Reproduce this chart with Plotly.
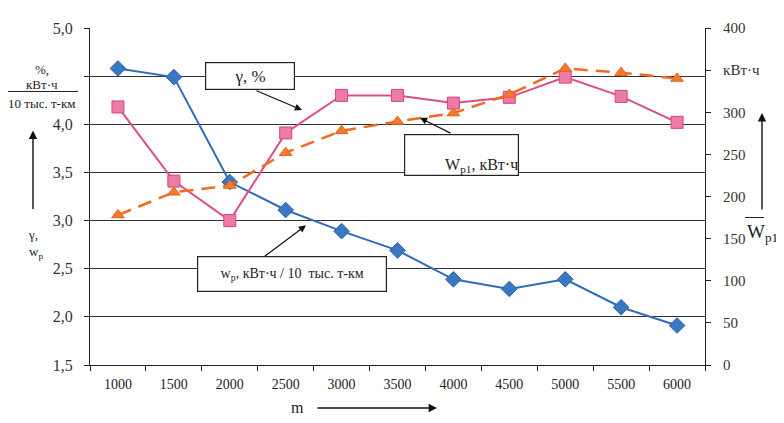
import plotly.graph_objects as go

categories = ["1000", "1500", "2000", "2500", "3000", "3500", "4000", "4500", "5000", "5500", "6000"]
wp = [4.58, 4.49, 3.40, 3.11, 2.89, 2.69, 2.39, 2.29, 2.39, 2.10, 1.91]
gamma = [4.18, 3.41, 3.00, 3.91, 4.30, 4.30, 4.22, 4.28, 4.49, 4.29, 4.02]
w_p1 = [178, 205, 213, 252, 278, 289, 299, 321, 352, 347, 340]

left_ticks = [1.5, 2.0, 2.5, 3.0, 3.5, 4.0, 4.5, 5.0]
left_labels = ["1,5", "2,0", "2,5", "3,0", "3,5", "4,0", "", "5,0"]
right_ticks = [0, 50, 100, 150, 200, 250, 300, 350, 400]
right_labels = ["0", "50", "100", "150", "200", "250", "300", "кВт·ч", "400"]

SERIF = "Liberation Serif"
OFF = 8  # page body margin of the browser
W, H = 784 - OFF, 423 - OFF
# plot area in window pixels: x 90..705, y 20..365
L, R, T, B = 90 - OFF, 784 - 705, 20 - OFF, 423 - 365
PW, PH = W - L - R, H - T - B


def px(x):
    return (x - 90) / PW


def py(y):
    return (365 - y) / PH


fig = go.Figure()
fig.add_trace(go.Scatter(
    x=categories, y=wp, mode="lines+markers", name="wp",
    line=dict(color="#2F6DB8", width=2),
    marker=dict(symbol="diamond", size=12, color="#3A78C4", line=dict(color="#2A5FA8", width=1)),
))
fig.add_trace(go.Scatter(
    x=categories, y=gamma, mode="lines+markers", name="gamma",
    line=dict(color="#DE4C86", width=2),
    marker=dict(symbol="square", size=12, color="#EC7BAA", line=dict(color="#D9447A", width=1)),
))
fig.add_trace(go.Scatter(
    x=categories, y=w_p1, mode="lines+markers", name="Wp1", yaxis="y2",
    line=dict(color="#F26A21", width=2.5, dash="14px,8px"),
    marker=dict(symbol="triangle-up", size=11, color="#F47A2E", line=dict(color="#E8601A", width=1)),
))

annotations = []


def text(x, y, s, size=13, xanchor="center", yanchor="middle"):
    annotations.append(dict(x=px(x), y=py(y), xref="paper", yref="paper", text=s, showarrow=False,
                            font=dict(family=SERIF, size=size, color="#222"),
                            xanchor=xanchor, yanchor=yanchor))


def arrow(x0, y0, x1, y1, head=2, width=1.2):
    annotations.append(dict(x=px(x1), y=py(y1), xref="paper", yref="paper", text="", showarrow=True,
                            ax=x0 - x1, ay=y0 - y1, axref="pixel", ayref="pixel",
                            arrowhead=head, arrowsize=1.2, arrowwidth=width, arrowcolor="#111"))


def box(x, y, s, w, h, size, valign="middle", align="center"):
    annotations.append(dict(x=px(x), y=py(y), xref="paper", yref="paper", text=s, showarrow=False,
                            font=dict(family=SERIF, size=size, color="#222"),
                            width=w, height=h, valign=valign, align=align, bgcolor="white",
                            bordercolor="#222", borderwidth=1.2, borderpad=0,
                            xanchor="center", yanchor="middle"))


# boxed labels
arrow(255, 84, 302, 104)
box(250, 69, "γ, %", 88, 26, 17)
arrow(452, 128, 420, 112)
box(461, 150, "W<sub>p1</sub>, кВт·ч", 113, 40, 16, valign="bottom", align="right")
arrow(262, 255, 306, 222)
box(292, 272, "w<sub>p</sub>, кВт·ч / 10  тыс. т-км", 188, 34, 14)

# left axis title
text(42, 62, "%,", 13)
text(42, 78, "кВт·ч", 13)
text(42, 97, "10 тыс. т-км", 13)
arrow(33, 205, 33, 125, head=2, width=1.4)
text(33, 231, "γ,", 13)
text(36, 250, "w<sub>p</sub>", 13)

# right axis title
arrow(762, 205, 762, 107, head=2, width=1.4)
text(745, 230, "W<sub>p1</sub>", 19, xanchor="left")

# x axis title
text(297, 409, "m", 16)
arrow(316, 409, 437, 409, head=2, width=1.4)

shapes = [
    dict(type="line", xref="paper", yref="paper", x0=px(6), x1=px(78), y0=py(85), y1=py(85),
         line=dict(color="#222", width=1)),
    dict(type="line", xref="paper", yref="paper", x0=px(745), x1=px(764), y0=py(214), y1=py(214),
         line=dict(color="#222", width=1)),
    dict(type="line", xref="paper", yref="paper", x0=px(442), x1=px(455), y0=py(143), y1=py(143),
         line=dict(color="#222", width=1)),
]

fig.update_layout(
    width=W, height=H,
    margin=dict(l=L, r=R, t=T, b=B),
    paper_bgcolor="white", plot_bgcolor="white",
    showlegend=False,
    font=dict(family=SERIF, size=14, color="#222"),
    xaxis=dict(type="category", range=[-0.5, 10.5], tickson="boundaries", ticks="outside", ticklen=5,
               tickcolor="#222", showline=True, linecolor="#222", linewidth=1.2, showgrid=False,
               ticklabelstandoff=6,
               tickfont=dict(family=SERIF, size=14, color="#222"), zeroline=False),
    yaxis=dict(range=[1.5, 5.0], tickvals=left_ticks, ticktext=left_labels, ticks="outside", ticklen=5,
               tickcolor="#222", showline=True, linecolor="#222", linewidth=1.2,
               showgrid=True, gridcolor="#333", gridwidth=1, zeroline=False,
               ticklabelstandoff=8,
               tickfont=dict(family=SERIF, size=16, color="#333")),
    yaxis2=dict(range=[0, 400], overlaying="y", side="right", tickvals=right_ticks, ticktext=right_labels,
                ticks="outside", ticklen=5, tickcolor="#222", showline=True, linecolor="#222", linewidth=1.2,
                showgrid=False, zeroline=False, ticklabelstandoff=9,
                tickfont=dict(family=SERIF, size=15, color="#333")),
    annotations=annotations,
    shapes=shapes,
)

fig.write_html("out.html")
